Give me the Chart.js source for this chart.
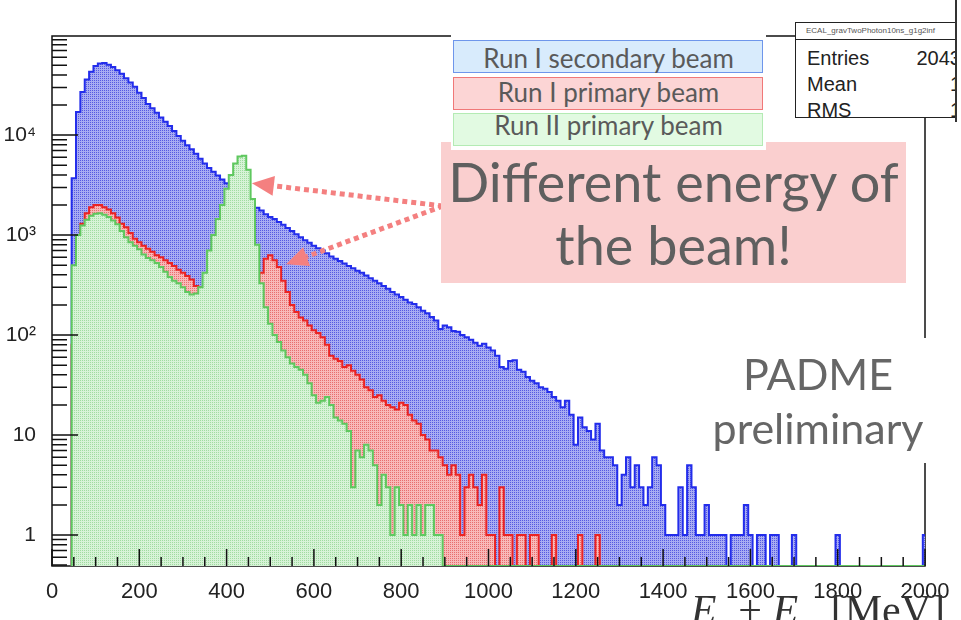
<!DOCTYPE html>
<html>
<head>
<meta charset="utf-8">
<script src="https://cdn.jsdelivr.net/npm/chart.js@4.4.1/dist/chart.umd.min.js"></script>
<style>
html, body { margin: 0; padding: 0; background: #fff; overflow: hidden; }
#wrap { position: relative; width: 961px; height: 620px; overflow: hidden; font-family: Lato, "Open Sans", sans-serif; }
#c { position: absolute; left: 0; top: 0; }
.abs { position: absolute; }
#legendBg { left: 451px; top: 33px; width: 315px; height: 117px; background: #fff; }
.legBox { left: 453px; width: 308px; height: 31px; border: 1.5px solid; }
.legText { left: 453px; width: 311px; text-align: center; font-size: 26px; line-height: 30px; color: #5a5a5a; white-space: nowrap; }
#note { left: 441px; top: 142px; width: 465px; height: 141px; background: rgb(250, 207, 207); }
#noteText { left: 441px; top: 150px; width: 465px; text-align: center; font-size: 54px; line-height: 63px; color: #5f5f5f; }
#padmeBg { left: 735px; top: 338px; width: 200px; height: 125px; background: #fff; }
#padme { left: 700px; top: 347px; width: 236px; text-align: center; font-size: 43px; line-height: 54px; color: #666; }
#stats { left: 795px; top: 22px; width: 161px; height: 94px; background: #fff; border-left: 1.5px solid #222; border-top: 1.5px solid #222; border-bottom: 1.5px solid #222; overflow: hidden; font-family: "Liberation Sans", Arial, sans-serif; color: #222; }
#statsTitle { left: 0; top: 0; width: 100%; height: 16px; border-bottom: 1px solid #222; font-size: 8px; line-height: 16px; padding-left: 10px; color: #555; white-space: nowrap; }
.sKey { left: 11px; font-size: 20px; line-height: 24px; }
.sVal { right: -4px; font-size: 20px; line-height: 24px; text-align: right; }
#edge { left: 955px; top: 0; width: 2px; height: 122px; background: #333; }
#xTitle { right: 16px; top: 590px; font-family: "Liberation Serif", "DejaVu Serif", serif; font-size: 42px; line-height: 40px; color: #333; white-space: nowrap; }
#xTitle sub { font-size: 26px; }
</style>
</head>
<body>
<div id="wrap">
  <canvas id="c" width="961" height="620"></canvas>
  <div id="note" class="abs"></div>
  <div id="noteText" class="abs">Different energy of<br>the beam!</div>
  <div id="legendBg" class="abs"></div>
  <div id="legend"></div>
  <div id="padmeBg" class="abs"></div>
  <div id="padme" class="abs">PADME<br>preliminary</div>
  <div id="stats" class="abs">
    <div id="statsTitle" class="abs">ECAL_gravTwoPhoton10ns_g1g2inf</div>
    <div class="abs sKey" style="top:23px">Entries</div><div class="abs sVal" style="top:23px">2043</div>
    <div class="abs sKey" style="top:49px">Mean</div><div class="abs sVal" style="top:49px">1</div>
    <div class="abs sKey" style="top:75px">RMS</div><div class="abs sVal" style="top:75px">1</div>
  </div>
  <div id="edge" class="abs"></div>
  <div id="xTitle" class="abs"><i>E</i><sub>γ</sub> + <i>E</i><sub>γ</sub>&nbsp; [MeV]</div>
</div>
<script>
// histogram binning, MeV
const binStart = 45;
const binWidth = 10;
const energyMin = 0;
const energyMax = 2000;
const countMin = 0.49;
const countMax = 98000;

const xLabelStep = 200;
const xMinorStep = 50;
const yDecades = [1, 10, 100, 1000, 10000];
const yDecadeLabels = ['1', '10', '10²', '10³', '10⁴'];

const seriesNames = ['Run I secondary beam', 'Run I primary beam', 'Run II primary beam'];

// counts per 10 MeV bin, starting at 45 MeV
const runOneSecondary = [
  3700, 17000, 27000, 36000, 43000, 49000, 52000, 52500, 50500, 48000,
  44500, 41000, 37000, 33500, 30500, 26500, 23500, 20500, 18600, 16700,
  15000, 13600, 12300, 11000, 9800, 8800, 7900, 7200, 6500, 5800,
  5200, 4700, 4300, 3950, 3600, 3300, 3000, 2750, 2550, 2380,
  2200, 2050, 1880, 1760, 1620, 1520, 1450, 1350, 1270, 1180,
  1100, 1020, 950, 890, 840, 780, 740, 700, 660, 610,
  580, 550, 520, 490, 465, 440, 420, 395, 370, 350,
  330, 310, 290, 270, 255, 240, 225, 212, 205, 190,
  175, 165, 152, 140, 115, 125, 120, 110, 108, 100,
  95, 90, 84, 78, 82, 75, 70, 62, 48, 46,
  55, 56, 45, 43, 38, 35, 33, 30, 29, 27,
  24, 22, 19, 22, 16, 8, 15, 12, 11, 9,
  13, 7, 6, 6, 5, 2, 4, 6, 3, 5,
  3, 2, 3, 6, 5, 2, 1, 1, 1, 3,
  1, 5, 3, 1, 1, 2, 1, 1, 1, 1,
  0, 1, 1, 1, 2, 1, 0, 1, 1, 0,
  1, 1, 0, 0, 0, 1, 0, 0, 0, 0,
  0, 0, 0, 0, 0, 1, 0, 0, 0, 0,
  0, 0, 0, 0, 0, 0, 0, 0, 0, 0,
  0, 0, 0, 0, 0, 1
];

const runOnePrimary = [
  80, 700, 1300, 1650, 1900, 2000, 2000, 1900, 1800, 1650,
  1500, 1300, 1200, 1050, 920, 850, 780, 730, 680, 630,
  600, 560, 525, 490, 450, 420, 390, 360, 310, 300,
  290, 270, 280, 250, 240, 225, 215, 220, 200, 195,
  190, 250, 320, 420, 580, 630, 560, 480, 350, 270,
  200, 170, 150, 140, 125, 112, 105, 95, 80, 62,
  58, 55, 48, 50, 44, 40, 36, 30, 28, 24,
  25, 22, 20, 19, 18, 21, 20, 16, 14, 13,
  10, 9, 7, 7, 6, 5, 4, 5, 4, 1,
  3, 4, 3, 2, 4, 1, 1, 0, 3, 1,
  1, 0, 1, 1, 0, 1, 1, 0, 0, 0,
  1, 0, 0, 0, 0, 0, 1, 0, 0, 0,
  1
];

const runTwoPrimary = [
  500, 1000, 1250, 1420, 1560, 1630, 1650, 1600, 1520, 1400,
  1280, 1100, 950, 850, 780, 720, 640, 590, 560, 525,
  480, 430, 380, 350, 330, 300, 270, 255, 260, 300,
  420, 700, 1000, 1450, 2000, 2900, 4000, 5200, 6100, 6200,
  4500, 2300, 800, 330, 190, 130, 100, 85, 70, 60,
  52, 48, 45, 40, 33, 25, 21, 22, 24, 20,
  15, 14, 13, 11, 3, 7, 6, 8, 7, 5,
  2, 4, 3, 1, 3, 2, 1, 2, 1, 2,
  1, 2, 2, 1, 1
];

// where the annotation arrows point (MeV, counts)
const arrowTips = [{ x: 458, y: 3300 }, { x: 536, y: 510 }];

const ctx = document.getElementById('c').getContext('2d');

// fine ROOT-like dot fill: one dark pixel in a 2x2 tile
function dots(dark, light) {
  const t = document.createElement('canvas');
  t.width = 2; t.height = 2;
  const g = t.getContext('2d');
  g.fillStyle = light; g.fillRect(0, 0, 2, 2);
  g.fillStyle = dark; g.fillRect(0, 0, 1, 1);
  return ctx.createPattern(t, 'repeat');
}

// one point per bin right edge, stepped 'after' makes the histogram outline
function toSteps(counts) {
  const pts = [{ x: binStart, y: countMin }];
  counts.forEach((c, i) => {
    pts.push({ x: binStart + (i + 1) * binWidth, y: c > 0 ? c : countMin });
  });
  const last = binStart + counts.length * binWidth;
  if (last < energyMax) pts.push({ x: energyMax, y: countMin });
  return pts;
}

const lineColors = ['rgb(35,45,235)', 'rgb(235,35,35)', 'rgb(95,200,95)'];
const fills = [
  dots('rgb(85,90,225)', 'rgb(168,172,242)'),
  dots('rgb(232,110,110)', 'rgb(248,185,185)'),
  dots('rgb(160,220,160)', 'rgb(215,243,215)')
];
const legendFill = ['rgb(216,235,252)', 'rgb(252,213,213)', 'rgb(226,250,226)'];
const legendBorder = ['rgb(110,150,235)', 'rgb(240,120,120)', 'rgb(180,235,180)'];

// legend boxes
const legendEl = document.getElementById('legend');
const boxTops = [40, 77, 113];
const textTops = [43, 77, 110];
seriesNames.forEach((name, i) => {
  const b = document.createElement('div');
  b.className = 'abs legBox';
  b.style.top = boxTops[i] + 'px';
  b.style.background = legendFill[i];
  b.style.borderColor = legendBorder[i];
  legendEl.appendChild(b);
  const t = document.createElement('div');
  t.className = 'abs legText';
  t.style.top = textTops[i] + 'px';
  t.textContent = name;
  legendEl.appendChild(t);
});

const rootAxes = {
  id: 'rootAxes',
  beforeDatasetsDraw(chart) {
    const a = chart.chartArea;
    const c = chart.ctx;
    c.save();
    c.strokeStyle = '#111';
    c.lineWidth = 1.5;
    c.strokeRect(a.left, a.top, a.right - a.left, a.bottom - a.top);
    c.restore();
  },
  afterDatasetsDraw(chart) {
    const a = chart.chartArea;
    const c = chart.ctx;
    const xs = chart.scales.x, ys = chart.scales.y;
    c.save();
    c.strokeStyle = '#111';
    c.lineWidth = 1.5;
    c.beginPath();
    for (let v = energyMin; v <= energyMax; v += xMinorStep) {
      const px = xs.getPixelForValue(v);
      const len = v % xLabelStep === 0 ? 17 : 9;
      c.moveTo(px, a.bottom);
      c.lineTo(px, a.bottom - len);
    }
    for (let d = 0.1; d <= 10000; d *= 10) {
      for (let m = 1; m <= 9; m++) {
        const v = m * d;
        if (v < countMin || v > countMax) continue;
        const py = ys.getPixelForValue(v);
        c.moveTo(a.left, py);
        c.lineTo(a.left + (m === 1 ? 26 : 15), py);
      }
    }
    c.stroke();

    // dotted arrows from the note box
    const sx = 443, sy = 206;
    c.fillStyle = c.strokeStyle = 'rgb(244,128,128)';
    arrowTips.forEach(tip => {
      const tx = xs.getPixelForValue(tip.x), ty = ys.getPixelForValue(tip.y);
      const ang = Math.atan2(ty - sy, tx - sx);
      const head = 22, half = 10;
      const bx = tx - head * Math.cos(ang), by = ty - head * Math.sin(ang);
      c.setLineDash([5, 4]);
      c.lineWidth = 5;
      c.beginPath();
      c.moveTo(sx, sy);
      c.lineTo(bx, by);
      c.stroke();
      c.setLineDash([]);
      c.beginPath();
      c.moveTo(tx, ty);
      c.lineTo(bx + half * Math.sin(ang), by - half * Math.cos(ang));
      c.lineTo(bx - half * Math.sin(ang), by + half * Math.cos(ang));
      c.closePath();
      c.fill();
    });
    c.restore();
  }
};

const series = [runOneSecondary, runOnePrimary, runTwoPrimary];

new Chart(ctx, {
  type: 'line',
  data: {
    datasets: series.map((s, i) => ({
      label: seriesNames[i],
      data: toSteps(s),
      stepped: 'after',
      borderColor: lineColors[i],
      backgroundColor: fills[i],
      borderWidth: 2,
      fill: 'start',
      pointRadius: 0,
      order: 3 - i
    }))
  },
  options: {
    responsive: false,
    animation: false,
    layout: { padding: { top: 36, right: 36, left: 0, bottom: 0 } },
    plugins: { legend: { display: false }, tooltip: { enabled: false } },
    scales: {
      x: {
        type: 'linear',
        min: energyMin,
        max: energyMax,
        grid: { display: false },
        border: { display: false },
        ticks: {
          stepSize: xLabelStep,
          autoSkip: false,
          maxRotation: 0,
          padding: 5,
          color: '#222',
          font: { family: 'Liberation Sans', size: 22 },
          callback: v => String(v)
        },
        afterFit(scale) { scale.height = 54; }
      },
      y: {
        type: 'logarithmic',
        min: countMin,
        max: countMax,
        grid: { display: false },
        border: { display: false },
        afterBuildTicks(scale) { scale.ticks = yDecades.map(v => ({ value: v })); },
        ticks: {
          autoSkip: false,
          padding: 8,
          color: '#222',
          font: { family: 'Liberation Sans', size: 21 },
          callback(v) {
            const k = yDecades.indexOf(v);
            return k >= 0 ? yDecadeLabels[k] : '';
          }
        },
        afterFit(scale) { scale.width = 52; }
      }
    }
  },
  plugins: [rootAxes]
});
</script>
</body>
</html>
